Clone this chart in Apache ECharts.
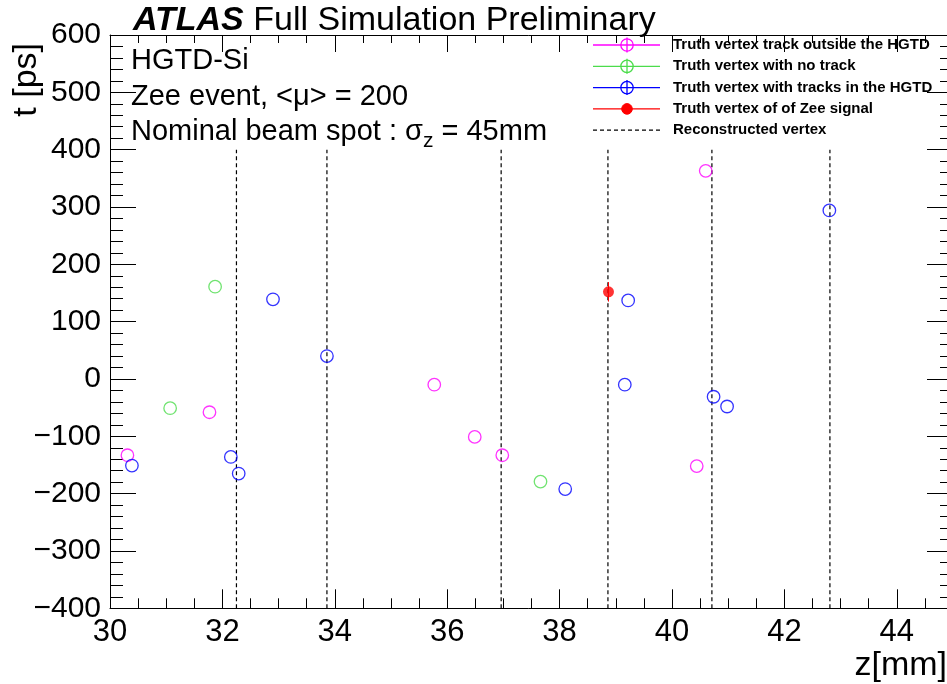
<!DOCTYPE html>
<html>
<head>
<meta charset="utf-8">
<script src="https://cdn.jsdelivr.net/npm/echarts@6/dist/echarts.min.js"></script>
<style>
  html, body { margin: 0; padding: 0; background: #ffffff; }
  #chart { width: 947px; height: 684px; }
</style>
</head>
<body>
<div id="chart"></div>
<script>
// Truth vertices, [z (mm), t (ps)]
const outsideHGTD = [[30.31, -133], [31.77, -58], [35.77, -10], [36.49, -101], [36.98, -133], [40.44, -152], [40.60, 363]];
const noTrack = [[31.07, -51], [31.87, 161], [37.66, -179]];
const inHGTD = [[30.39, -151], [32.15, -136], [32.29, -165], [32.90, 139], [33.86, 40], [38.10, -192],
                [39.16, -10], [39.22, 137], [40.74, -31], [40.98, -48], [42.80, 294]];
const zeeSignal = [[38.87, 152]];
const zeeSignalErr = [17];

// Reconstructed vertex positions along z (mm) and the t span their markers cover
const recoVertexZ = [32.25, 33.86, 36.96, 38.86, 40.71, 42.81];
const recoSpan = [-400, 400];

// Axis ranges
const zRange = [30, 45];
const tRange = [-400, 600];

const legendEntries = [
  { label: 'Truth vertex track outside the HGTD', color: '#ff00ff', kind: 'open' },
  { label: 'Truth vertex with no track', color: '#4cdc4c', kind: 'open' },
  { label: 'Truth vertex with tracks in the HGTD', color: '#0000ff', kind: 'open' },
  { label: 'Truth vertex of of Zee signal', color: '#ff0000', kind: 'filled' },
  { label: 'Reconstructed vertex', color: '#000000', kind: 'dashed' }
];

const FONT = '"Liberation Sans", Arial, Helvetica, sans-serif';
const chart = echarts.init(document.getElementById('chart'), null, { renderer: 'canvas' });

const minus = v => String(v).replace('-', '\u2212');

function xAxisDef(position, interval, tickLen, showLabel, showLine) {
  return {
    type: 'value', position: position, min: zRange[0], max: zRange[1], interval: interval,
    axisLine: { show: showLine, onZero: false, lineStyle: { color: '#000', width: 1 } },
    axisTick: { show: true, inside: true, length: tickLen, lineStyle: { color: '#000', width: 1 } },
    axisLabel: {
      show: showLabel, color: '#000', fontSize: 31, fontFamily: FONT, margin: 9,
      formatter: v => (v % 2 === 0 ? minus(v) : '')
    },
    splitLine: { show: false }
  };
}

function yAxisDef(position, majorLen, minorLen, showLabel) {
  return {
    type: 'value', position: position, min: tRange[0], max: tRange[1], interval: 100,
    axisLine: { show: true, onZero: false, lineStyle: { color: '#000', width: 1 } },
    axisTick: { show: true, inside: true, length: majorLen, lineStyle: { color: '#000', width: 1 } },
    minorTick: { show: true, splitNumber: 5, length: minorLen, lineStyle: { color: '#000', width: 1 } },
    axisLabel: { show: showLabel, color: '#000', fontSize: 30, fontFamily: FONT, margin: 9, formatter: minus },
    splitLine: { show: false }, minorSplitLine: { show: false }
  };
}

// Legend drawn as graphic elements (line sample, marker, text)
const legendGraphics = [];
const legX0 = 593, legX1 = 660, legMk = 627, legText = 673, legY0 = 45, legDy = 21.3;
legendEntries.forEach((e, i) => {
  const y = legY0 + i * legDy;
  if (e.kind === 'dashed') {
    legendGraphics.push({ type: 'line', shape: { x1: legX0, y1: y, x2: legX1, y2: y },
      style: { stroke: '#000', lineWidth: 1.2, lineDash: [4, 3] } });
  } else {
    legendGraphics.push({ type: 'line', shape: { x1: legX0, y1: y, x2: legX1, y2: y },
      style: { stroke: e.color, lineWidth: 1.3 } });
    if (e.kind === 'open') {
      legendGraphics.push({ type: 'circle', shape: { cx: legMk, cy: y, r: 6.2 },
        style: { fill: 'none', stroke: e.color, lineWidth: 1.3 } });
      legendGraphics.push({ type: 'line', shape: { x1: legMk, y1: y - 7.5, x2: legMk, y2: y + 7.5 },
        style: { stroke: e.color, lineWidth: 1.3 } });
    } else {
      legendGraphics.push({ type: 'circle', shape: { cx: legMk, cy: y, r: 5.3 },
        style: { fill: e.color, stroke: e.color, lineWidth: 1 } });
    }
  }
  legendGraphics.push({ type: 'text', x: legText, y: y,
    style: { text: e.label, fill: '#000', fontSize: 15, fontWeight: 'bold', fontFamily: FONT,
      align: 'left', verticalAlign: 'middle' } });
});

const textGraphics = [
  { type: 'text', x: 133, y: 21,
    style: { text: '{b|ATLAS} Full Simulation Preliminary', fill: '#000', fontSize: 34, fontFamily: FONT,
      align: 'left', verticalAlign: 'middle',
      rich: { b: { fontSize: 34, fontFamily: FONT, fontWeight: 'bold', fontStyle: 'italic', fill: '#000' } } } },
  { type: 'text', x: 131, y: 61,
    style: { text: 'HGTD-Si', fill: '#000', fontSize: 29, fontFamily: FONT, align: 'left', verticalAlign: 'middle' } },
  { type: 'text', x: 131, y: 97,
    style: { text: 'Zee event, <\u03bc> = 200', fill: '#000', fontSize: 29, fontFamily: FONT, align: 'left', verticalAlign: 'middle' } },
  { type: 'text', x: 131, y: 132,
    style: { text: '{n|Nominal beam spot : \u03c3}{s|z}{n| = 45mm}', fill: '#000', fontFamily: FONT,
      align: 'left', verticalAlign: 'middle',
      rich: { n: { fontSize: 29, fontFamily: FONT, fill: '#000' },
              s: { fontSize: 21, fontFamily: FONT, fill: '#000', padding: [18, 0, 0, 0] } } } },
  { type: 'text', x: 27, y: 43, rotation: Math.PI / 2,
    style: { text: 't [ps]', fill: '#000', fontSize: 34, fontFamily: FONT, align: 'right', verticalAlign: 'middle' } },
  { type: 'text', x: 947, y: 666,
    style: { text: 'z[mm]', fill: '#000', fontSize: 34, fontFamily: FONT, align: 'right', verticalAlign: 'middle' } }
];

function openSeries(name, data, color) {
  return {
    name: name, type: 'scatter', data: data, symbol: 'circle', symbolSize: 12.5, z: 5,
    itemStyle: { color: 'rgba(0,0,0,0)', borderColor: color, borderWidth: 1.3 }
  };
}

const option = {
  animation: false,
  backgroundColor: '#ffffff',
  // the frame's right edge lies just past the canvas border
  grid: { left: 110, top: 35, width: 843, height: 573.3, containLabel: false, outerBoundsMode: 'none' },
  xAxis: [
    xAxisDef('bottom', 2, 19, true, true),
    xAxisDef('bottom', 0.5, 10, false, false),
    xAxisDef('top', 2, 17, false, true),
    xAxisDef('top', 0.5, 8, false, false)
  ],
  yAxis: [
    yAxisDef('left', 26, 13, true),
    yAxisDef('right', 26, 13, false)
  ],
  series: [
    {
      name: 'Reconstructed vertex', type: 'custom', z: 2,
      data: recoVertexZ.map(z => [z, recoSpan[0], recoSpan[1]]),
      encode: { x: 0, y: [1, 2] },
      renderItem: (params, api) => {
        const p0 = api.coord([api.value(0), api.value(1)]);
        const p1 = api.coord([api.value(0), api.value(2)]);
        return { type: 'line', shape: { x1: p0[0], y1: p0[1], x2: p1[0], y2: p1[1] },
          style: { stroke: '#000', lineWidth: 1.2, lineDash: [4, 3] } };
      }
    },
    openSeries('Truth vertex track outside the HGTD', outsideHGTD, legendEntries[0].color),
    openSeries('Truth vertex with no track', noTrack, legendEntries[1].color),
    openSeries('Truth vertex with tracks in the HGTD', inHGTD, legendEntries[2].color),
    {
      name: 'Zee signal uncertainty', type: 'custom', z: 4,
      data: zeeSignal.map((p, i) => [p[0], p[1] - zeeSignalErr[i], p[1] + zeeSignalErr[i]]),
      encode: { x: 0, y: [1, 2] },
      renderItem: (params, api) => {
        const p0 = api.coord([api.value(0), api.value(1)]);
        const p1 = api.coord([api.value(0), api.value(2)]);
        return { type: 'line', shape: { x1: p0[0], y1: p0[1], x2: p1[0], y2: p1[1] },
          style: { stroke: '#ff0000', lineWidth: 1 } };
      }
    },
    {
      name: 'Truth vertex of of Zee signal', type: 'scatter', data: zeeSignal, symbol: 'circle',
      symbolSize: 11, z: 6, itemStyle: { color: '#ff0000' }
    }
  ],
  graphic: legendGraphics.concat(textGraphics)
};

chart.setOption(option);
</script>
</body>
</html>
